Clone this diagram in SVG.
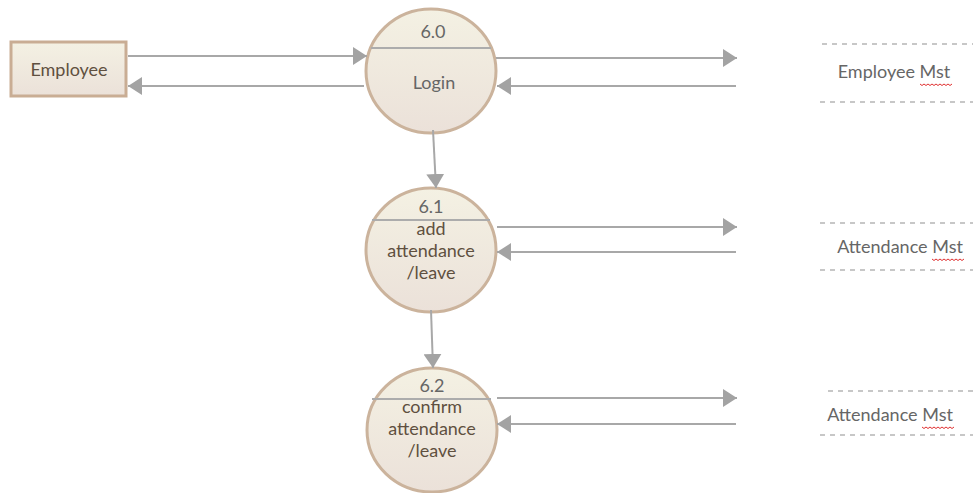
<svg xmlns="http://www.w3.org/2000/svg" width="973" height="493" viewBox="0 0 973 493">
<defs>
<linearGradient id="g" x1="0" y1="0" x2="0" y2="1">
<stop offset="0" stop-color="#f4f1e3"/>
<stop offset="1" stop-color="#ebe1d9"/>
</linearGradient>
<marker id="ah" viewBox="0 0 14 18" refX="14" refY="9" markerWidth="14" markerHeight="18" markerUnits="userSpaceOnUse" orient="auto">
<path d="M0,0 L14,9 L0,18 Z" fill="#a3a3a3"/>
</marker>
</defs>
<style>
.proc{fill:url(#g);stroke:#cbb39c;stroke-width:3}
.ent{fill:url(#g);stroke:#c9ad94;stroke-width:3}
.div{stroke:#acacac;stroke-width:2}
.t{font-family:Lato,"Open Sans",sans-serif;font-size:18px;text-anchor:middle;fill:#5f5040}
.n{font-family:Lato,"Open Sans",sans-serif;font-size:18px;text-anchor:middle;fill:#666}
.s{font-family:Lato,"Open Sans",sans-serif;font-size:18px;text-anchor:middle;fill:#666}
.f{stroke:#a8a8a8;stroke-width:2;fill:none;marker-end:url(#ah)}
.d{stroke:#b5b5b5;stroke-width:1.5;stroke-dasharray:5 5}
.sq{stroke:#e03030;stroke-width:1;fill:none}
</style>
<g id="employee">
<rect class="ent" x="11" y="42" width="115" height="54"/>
<text class="t" x="69" y="76" font-size="18.5">Employee</text>
</g>
<g id="p60">
<ellipse class="proc" cx="431" cy="71" rx="65" ry="62"/>
<line class="div" x1="371" y1="48" x2="491" y2="48"/>
<text class="n" x="433" y="38">6.0</text>
<text class="n" x="434" y="89">Login</text>
</g>
<g id="p61">
<ellipse class="proc" cx="431" cy="250" rx="65" ry="62"/>
<line class="div" x1="372" y1="220" x2="490" y2="220"/>
<text class="n" x="431" y="213">6.1</text>
<text class="t" x="431" y="235">add</text>
<text class="t" x="431" y="257">attendance</text>
<text class="t" x="431" y="279">/leave</text>
</g>
<g id="p62">
<ellipse class="proc" cx="432" cy="430" rx="65" ry="62"/>
<line class="div" x1="372" y1="399" x2="491" y2="399"/>
<text class="n" x="432" y="392">6.2</text>
<text class="t" x="432" y="413">confirm</text>
<text class="t" x="432" y="435">attendance</text>
<text class="t" x="432" y="457">/leave</text>
</g>
<g id="store-employee">
<line class="d" x1="822" y1="44" x2="973" y2="44"/>
<line class="d" x1="820" y1="102" x2="973" y2="102"/>
<text class="s" x="894" y="78">Employee Mst</text>
<path class="sq" d="M920,84 l2,1.5 l2,-1.5 l2,1.5 l2,-1.5 l2,1.5 l2,-1.5 l2,1.5 l2,-1.5 l2,1.5 l2,-1.5 l2,1.5 l2,-1.5 l2,1.5 l2,-1.5 l2,1.5 l2,-1.5"/>
</g>
<g id="store-attendance1">
<line class="d" x1="820" y1="223" x2="973" y2="223"/>
<line class="d" x1="820" y1="270" x2="973" y2="270"/>
<text class="s" x="900" y="253">Attendance Mst</text>
<path class="sq" d="M932,259 l2,1.5 l2,-1.5 l2,1.5 l2,-1.5 l2,1.5 l2,-1.5 l2,1.5 l2,-1.5 l2,1.5 l2,-1.5 l2,1.5 l2,-1.5 l2,1.5 l2,-1.5 l2,1.5 l2,-1.5"/>
</g>
<g id="store-attendance2">
<line class="d" x1="828" y1="391" x2="973" y2="391"/>
<line class="d" x1="820" y1="435" x2="973" y2="435"/>
<text class="s" x="890" y="421">Attendance Mst</text>
<path class="sq" d="M922,427 l2,1.5 l2,-1.5 l2,1.5 l2,-1.5 l2,1.5 l2,-1.5 l2,1.5 l2,-1.5 l2,1.5 l2,-1.5 l2,1.5 l2,-1.5 l2,1.5 l2,-1.5 l2,1.5 l2,-1.5"/>
</g>
<g id="connectors">
<line class="f" x1="128" y1="56" x2="367" y2="56"/>
<line class="f" x1="364" y1="86" x2="128" y2="86"/>
<line class="f" x1="496" y1="58" x2="737" y2="58"/>
<line class="f" x1="736" y1="86" x2="497" y2="86"/>
<line class="f" x1="433" y1="130" x2="436" y2="188"/>
<line class="f" x1="497" y1="227" x2="737" y2="227"/>
<line class="f" x1="736" y1="252" x2="497" y2="252"/>
<line class="f" x1="431" y1="310" x2="433" y2="368"/>
<line class="f" x1="497" y1="398" x2="737" y2="398"/>
<line class="f" x1="736" y1="424" x2="497" y2="424"/>
</g>
</svg>
